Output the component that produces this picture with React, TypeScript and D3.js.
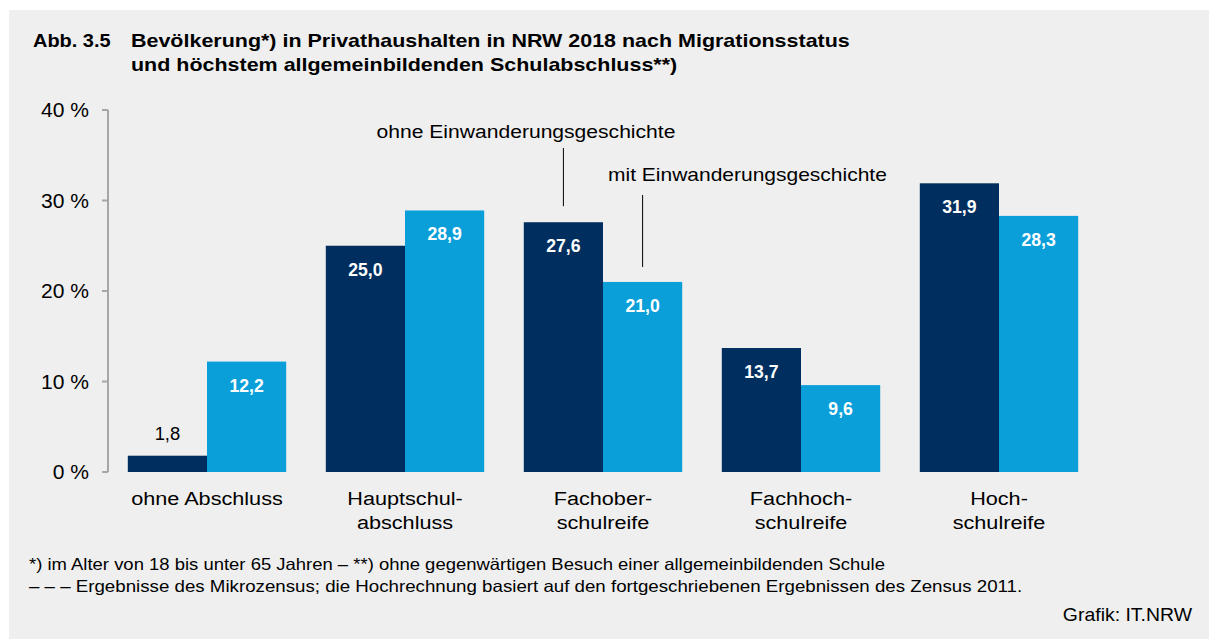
import * as d3 from 'd3';

const categories = ['ohne Abschluss', 'Hauptschul-\nabschluss', 'Fachober-\nschulreife', 'Fachhoch-\nschulreife', 'Hoch-\nschulreife'];
const series = ['ohne Einwanderungsgeschichte', 'mit Einwanderungsgeschichte'];
const ohneValues = [1.8, 25.0, 27.6, 13.7, 31.9];
const mitValues = [12.2, 28.9, 21.0, 9.6, 28.3];
const yTicks = [0, 10, 20, 30, 40];

const W = 1209;
const H = 639;
const colors = ['#002f5f', '#0b9fda'];
const font = '"Liberation Sans", Arial, sans-serif';

// text with a little horizontal stretch, like the original rendering
function T({ x, y, sx = 1, size, anchor = 'start', bold = false, fill = '#000', children }: any) {
  return (
    <text
      transform={`translate(${x},${y}) scale(${sx},1)`}
      textAnchor={anchor}
      fontSize={size}
      fontWeight={bold ? 'bold' : 'normal'}
      fill={fill}
    >
      {children}
    </text>
  );
}

export default function App() {
  const x = d3.scaleBand<string>().domain(categories).range([108, 1098]).paddingInner(0.2).paddingOuter(0.1);
  const x1 = d3.scaleBand<string>().domain(series).range([0, x.bandwidth()]);
  const y = d3.scaleLinear().domain([0, 40]).range([472, 110]);
  const fmt = (v: number) => v.toFixed(1).replace('.', ',');
  const valuesBySeries = [ohneValues, mitValues];

  // annotation anchors: Fachoberschulreife group
  const annCat = categories[2];
  const annX0 = (x(annCat) ?? 0) + x1(series[0])! + x1.bandwidth() / 2;
  const annX1 = (x(annCat) ?? 0) + x1(series[1])! + x1.bandwidth() / 2;

  return (
    <svg width={W} height={H} style={{ position: 'absolute', left: 0, top: 0 }} fontFamily={font}>
      <rect x={0} y={0} width={W} height={H} fill="#ffffff" />
      <rect x={9} y={10} width={W - 9} height={H - 10} fill="#efefef" />

      <T x={33} y={47} size={19} sx={1.05} bold>Abb. 3.5</T>
      <T x={131} y={47} size={19} sx={1.13} bold>
        Bevölkerung*) in Privathaushalten in NRW 2018 nach Migrationsstatus
      </T>
      <T x={131} y={71} size={19} sx={1.13} bold>
        und höchstem allgemeinbildenden Schulabschluss**)
      </T>

      {/* y axis */}
      <line x1={108} x2={108} y1={y(40)} y2={y(0)} stroke="#a6a6a6" strokeWidth={2} />
      {yTicks.map((t) => (
        <g key={t}>
          <line x1={102} x2={108} y1={y(t)} y2={y(t)} stroke="#a6a6a6" strokeWidth={2} />
          <T x={89} y={y(t) + 7} size={19.5} sx={1.08} anchor="end">
            {t} %
          </T>
        </g>
      ))}

      {/* bars */}
      {categories.map((c, i) => (
        <g key={c} transform={`translate(${x(c)},0)`}>
          {series.map((s, j) => {
            const v = valuesBySeries[j][i];
            const bx = x1(s) ?? 0;
            const inside = y(0) - y(v) > 40;
            const cx = bx + x1.bandwidth() / 2;
            return (
              <g key={s}>
                <rect x={bx} y={y(v)} width={x1.bandwidth()} height={y(0) - y(v)} fill={colors[j]} />
                {inside ? (
                  <T x={cx} y={y(v) + 30} size={18} sx={0.98} anchor="middle" bold fill="#fff">
                    {fmt(v)}
                  </T>
                ) : (
                  <T x={cx} y={y(v) - 16} size={18} sx={1.02} anchor="middle">
                    {fmt(v)}
                  </T>
                )}
              </g>
            );
          })}
          {c.split('\n').map((line, k) => (
            <T key={k} x={x.bandwidth() / 2} y={505 + k * 23.5} size={19} sx={1.14} anchor="middle">
              {line}
            </T>
          ))}
        </g>
      ))}

      {/* series annotations */}
      <T x={annX0 + 112} y={138} size={19} sx={1.11} anchor="end">{series[0]}</T>
      <line x1={annX0} x2={annX0} y1={148} y2={y(ohneValues[2]) - 16} stroke="#000" strokeWidth={1} />
      <T x={608} y={181} size={19} sx={1.105}>{series[1]}</T>
      <line x1={annX1} x2={annX1} y1={195} y2={y(mitValues[2]) - 15} stroke="#000" strokeWidth={1} />

      <T x={29} y={570} size={16.5} sx={1.12}>
        *) im Alter von 18 bis unter 65 Jahren – **) ohne gegenwärtigen Besuch einer allgemeinbildenden Schule
      </T>
      <T x={29} y={592} size={16.5} sx={1.134}>
        – – – Ergebnisse des Mikrozensus; die Hochrechnung basiert auf den fortgeschriebenen Ergebnissen des Zensus 2011.
      </T>
      <T x={1192} y={621} size={18} sx={1.08} anchor="end">Grafik: IT.NRW</T>
    </svg>
  );
}
